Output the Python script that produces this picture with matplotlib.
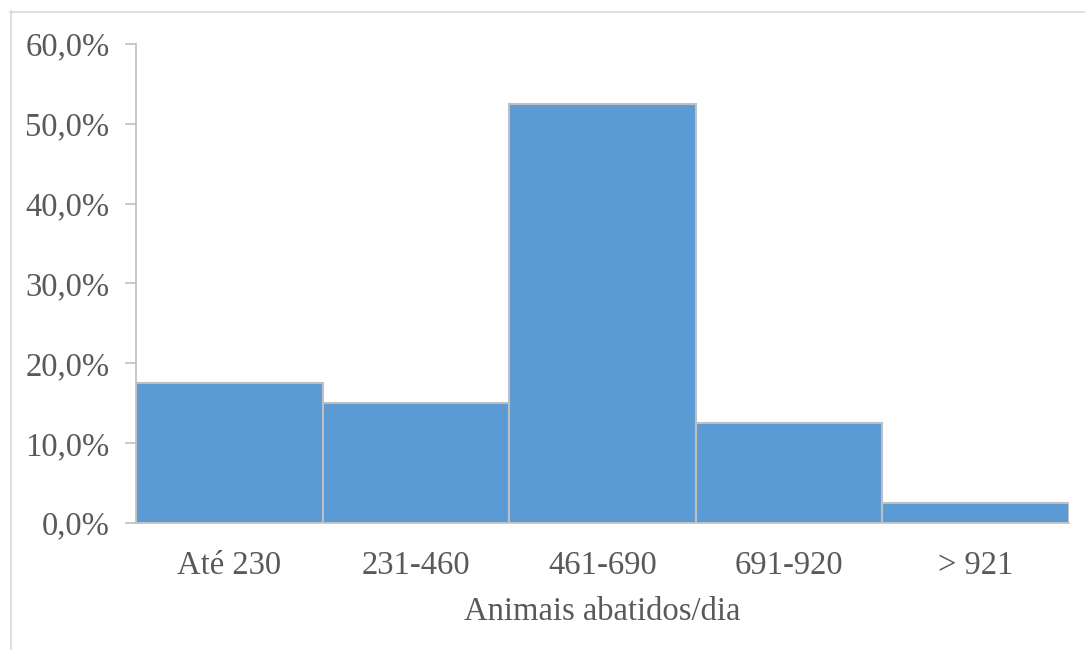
import matplotlib
matplotlib.use("Agg")
import matplotlib.pyplot as plt
from matplotlib.lines import Line2D
from matplotlib.ticker import FuncFormatter

categories = ["Até 230", "231-460", "461-690", "691-920", "> 921"]
shares = [17.5, 15.0, 52.5, 12.5, 2.5]
y_ticks = [0, 10, 20, 30, 40, 50, 60]

text_color = "#595959"
bar_color = "#5B9BD5"
edge_color = "#BFBFBF"

plt.rcParams["font.family"] = ["Liberation Serif", "DejaVu Serif"]

fig = plt.figure(figsize=(10.85, 6.5), dpi=100)
ax = fig.add_axes([0.1253, 0.1954, 0.9853 - 0.1253, 0.9323 - 0.1954])

x = list(range(len(categories)))
ax.bar(x, shares, width=1.0, color=bar_color, edgecolor=edge_color,
       linewidth=1.5, zorder=2)

ax.set_xlim(-0.5, len(categories) - 0.5)
ax.set_ylim(0, 60)
ax.set_yticks(y_ticks)
ax.yaxis.set_major_formatter(FuncFormatter(lambda v, _: f"{v:.1f}%".replace(".", ",")))
ax.set_xticks(x)
ax.set_xticklabels(categories)

ax.tick_params(axis="y", length=8, width=1.2, color=edge_color,
               labelsize=23.5, labelcolor=text_color, pad=11)
ax.tick_params(axis="x", length=0, labelsize=23.5, labelcolor=text_color, pad=20)

for side in ("top", "right"):
    ax.spines[side].set_visible(False)
for side in ("left", "bottom"):
    ax.spines[side].set_color(edge_color)
    ax.spines[side].set_linewidth(1.2)

ax.set_xlabel("Animais abatidos/dia", fontsize=23.5, color=text_color, labelpad=11)

# light frame around the chart area
W, H = 1085, 650
fig.add_artist(Line2D([10.5 / W, 10.5 / W], [0, 1 - 11 / H],
                      transform=fig.transFigure, color="#D9D9D9", lw=1.2))
fig.add_artist(Line2D([10 / W, 1], [1 - 11.5 / H, 1 - 11.5 / H],
                      transform=fig.transFigure, color="#D9D9D9", lw=1.2))

fig.savefig("out.png", dpi=100, facecolor="white")
